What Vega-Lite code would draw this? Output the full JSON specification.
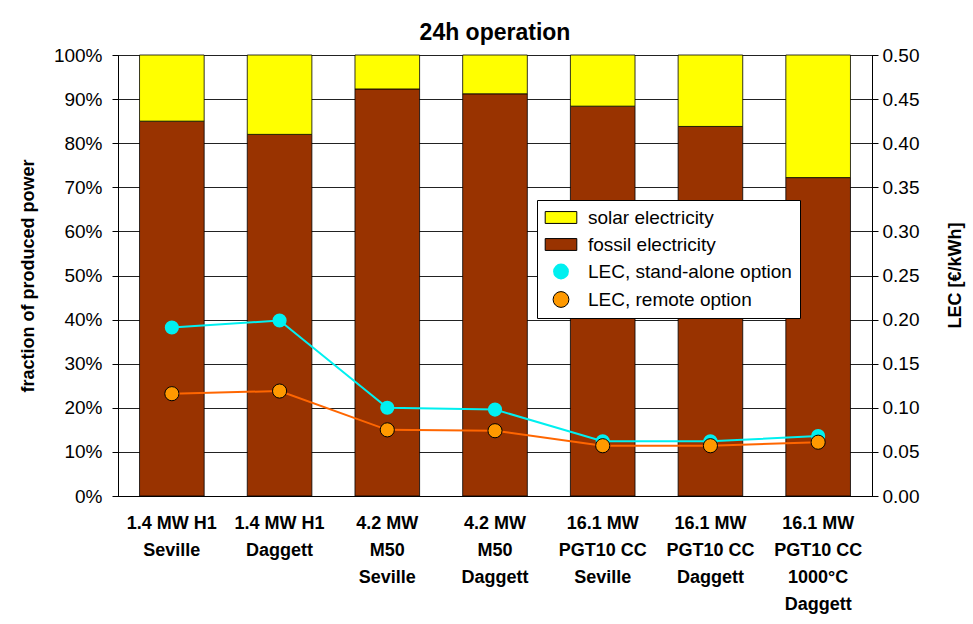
{
  "$schema": "https://vega.github.io/schema/vega-lite/v6.json",
  "autosize": "none",
  "width": 754,
  "height": 441,
  "padding": {"left": 118, "top": 55, "right": 101, "bottom": 128},
  "background": "white",
  "title": {"text": "24h operation", "font": "Liberation Sans", "fontSize": 23, "fontWeight": "bold", "color": "black", "offset": 1},
  "config": {
    "font": "Liberation Sans",
    "view": {"stroke": "black", "strokeWidth": 1},
    "axis": {"labelFont": "Liberation Sans", "titleFont": "Liberation Sans", "labelColor": "black", "titleColor": "black", "domainColor": "black", "tickColor": "black"}
  },
  "datasets": {
    "bars": [
      {"cat": "1.4 MW H1|Seville", "series": "fossil electricity", "share": 0.85},
      {"cat": "1.4 MW H1|Seville", "series": "solar electricity", "share": 0.15},
      {"cat": "1.4 MW H1|Daggett", "series": "fossil electricity", "share": 0.82},
      {"cat": "1.4 MW H1|Daggett", "series": "solar electricity", "share": 0.18},
      {"cat": "4.2 MW|M50|Seville", "series": "fossil electricity", "share": 0.923},
      {"cat": "4.2 MW|M50|Seville", "series": "solar electricity", "share": 0.077},
      {"cat": "4.2 MW|M50|Daggett", "series": "fossil electricity", "share": 0.912},
      {"cat": "4.2 MW|M50|Daggett", "series": "solar electricity", "share": 0.088},
      {"cat": "16.1 MW|PGT10 CC|Seville", "series": "fossil electricity", "share": 0.884},
      {"cat": "16.1 MW|PGT10 CC|Seville", "series": "solar electricity", "share": 0.116},
      {"cat": "16.1 MW|PGT10 CC|Daggett", "series": "fossil electricity", "share": 0.838},
      {"cat": "16.1 MW|PGT10 CC|Daggett", "series": "solar electricity", "share": 0.162},
      {"cat": "16.1 MW|PGT10 CC|1000°C|Daggett", "series": "fossil electricity", "share": 0.722},
      {"cat": "16.1 MW|PGT10 CC|1000°C|Daggett", "series": "solar electricity", "share": 0.278}
    ],
    "lec": [
      {"cat": "1.4 MW H1|Seville", "series": "LEC, stand-alone option", "lec": 0.191},
      {"cat": "1.4 MW H1|Daggett", "series": "LEC, stand-alone option", "lec": 0.199},
      {"cat": "4.2 MW|M50|Seville", "series": "LEC, stand-alone option", "lec": 0.100},
      {"cat": "4.2 MW|M50|Daggett", "series": "LEC, stand-alone option", "lec": 0.098},
      {"cat": "16.1 MW|PGT10 CC|Seville", "series": "LEC, stand-alone option", "lec": 0.062},
      {"cat": "16.1 MW|PGT10 CC|Daggett", "series": "LEC, stand-alone option", "lec": 0.062},
      {"cat": "16.1 MW|PGT10 CC|1000°C|Daggett", "series": "LEC, stand-alone option", "lec": 0.068},
      {"cat": "1.4 MW H1|Seville", "series": "LEC, remote option", "lec": 0.116},
      {"cat": "1.4 MW H1|Daggett", "series": "LEC, remote option", "lec": 0.119},
      {"cat": "4.2 MW|M50|Seville", "series": "LEC, remote option", "lec": 0.075},
      {"cat": "4.2 MW|M50|Daggett", "series": "LEC, remote option", "lec": 0.074},
      {"cat": "16.1 MW|PGT10 CC|Seville", "series": "LEC, remote option", "lec": 0.057},
      {"cat": "16.1 MW|PGT10 CC|Daggett", "series": "LEC, remote option", "lec": 0.057},
      {"cat": "16.1 MW|PGT10 CC|1000°C|Daggett", "series": "LEC, remote option", "lec": 0.061}
    ]
  },
  "encoding": {
    "x": {
      "field": "cat", "type": "nominal", "sort": null,
      "scale": {"paddingInner": 0.4, "paddingOuter": 0.2},
      "axis": {"title": null, "labelAngle": 0, "labelExpr": "split(datum.label, '|')", "labelFontSize": 18, "labelFontWeight": "bold", "labelLineHeight": 27, "labelPadding": 18, "labelBaseline": "top", "ticks": false, "labelLimit": 200, "domainColor": "black"}
    }
  },
  "layer": [
    {
      "data": {"name": "bars"},
      "mark": {"type": "bar", "stroke": "black", "strokeWidth": 0.8},
      "encoding": {
        "y": {
          "field": "share", "type": "quantitative", "stack": "zero",
          "scale": {"domain": [0, 1], "nice": false},
          "axis": {"title": "fraction of produced power", "format": ".0%", "values": [0, 0.1, 0.2, 0.3, 0.4, 0.5, 0.6, 0.7, 0.8, 0.9, 1.0], "labelFontSize": 19, "titleFontSize": 18, "titleFontWeight": "bold", "titlePadding": 16, "grid": true, "gridColor": "#222", "gridWidth": 1, "tickSize": 6, "labelPadding": 10}
        },
        "order": {"field": "series", "sort": "ascending"},
        "color": {
          "field": "series", "type": "nominal",
          "scale": {"domain": ["solar electricity", "fossil electricity", "LEC, stand-alone option", "LEC, remote option"], "range": ["#FFFF00", "#993300", "#00F0F0", "#FF9900"]},
          "legend": {
            "title": null, "orient": "none", "legendX": 419, "legendY": 145,
            "fillColor": "white", "strokeColor": "black", "padding": 8,
            "labelFontSize": 19, "labelColor": "black", "labelFont": "Liberation Sans", "labelLimit": 400,
            "symbolSize": 250, "rowPadding": 7, "symbolStrokeColor": "black", "symbolStrokeWidth": 1, "labelOffset": 24,
            "encode": {
              "symbols": {
                "update": {
                  "shape": {"signal": "indexof(['solar electricity','fossil electricity'], datum.value) >= 0 ? 'M-2,-0.75H2V0.75H-2Z' : 'circle'"},
                  "strokeWidth": {"signal": "datum.value === 'LEC, stand-alone option' ? 0 : 1"},
                  "xc": {"value": 16}
                }
              }
            }
          }
        }
      }
    },
    {
      "data": {"name": "lec"},
      "layer": [
        {
          "mark": {"type": "line", "strokeWidth": 2},
          "encoding": {
            "y": {"field": "lec", "type": "quantitative", "scale": {"domain": [0, 0.5], "nice": false},
              "axis": {"orient": "right", "title": "LEC [€/kWh]", "titleAngle": 270, "titleX": 83, "titleY": 220, "titleAlign": "center", "titleBaseline": "middle", "format": ".2f", "values": [0, 0.05, 0.1, 0.15, 0.2, 0.25, 0.3, 0.35, 0.4, 0.45, 0.5], "labelFontSize": 19, "titleFontSize": 18, "titleFontWeight": "bold", "grid": false, "tickSize": 6, "labelPadding": 4}},
            "detail": {"field": "series"},
            "stroke": {
              "field": "series", "type": "nominal", "legend": null,
              "scale": {"domain": ["LEC, stand-alone option", "LEC, remote option"], "range": ["#00F0F0", "#FF6600"]}
            }
          }
        },
        {
          "mark": {"type": "point", "filled": true, "size": 200, "opacity": 1},
          "encoding": {
            "y": {"field": "lec", "type": "quantitative"},
            "color": {"field": "series", "type": "nominal"},
            "strokeWidth": {"condition": {"test": "datum.series === 'LEC, remote option'", "value": 1}, "value": 0},
            "stroke": {"value": "black"}
          }
        }
      ]
    }
  ],
  "resolve": {"scale": {"y": "independent", "stroke": "independent"}}
}
